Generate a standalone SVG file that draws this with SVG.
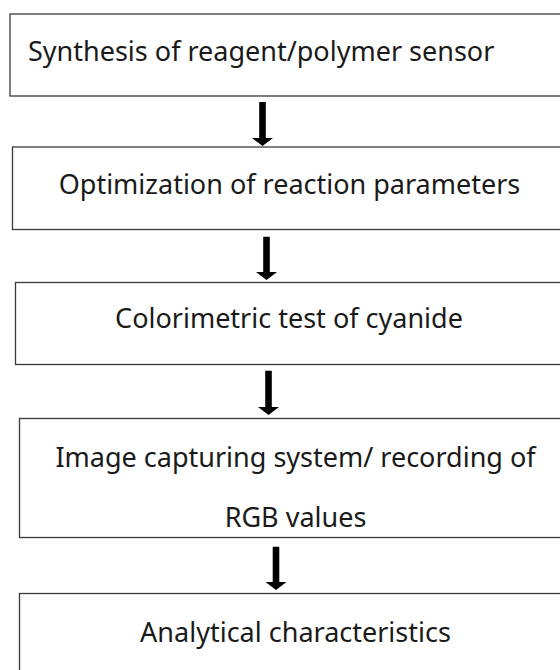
<svg xmlns="http://www.w3.org/2000/svg" width="560" height="670" viewBox="0 0 560 670">
<style>
.box{fill:#ffffff;stroke:#3a3a3a;stroke-width:1.3}
.lbl{font-family:"Noto Sans","Open Sans","DejaVu Sans",sans-serif;font-size:27px;fill:#1a1a1a}
.c{text-anchor:middle}
.arr{fill:#000000;stroke:none}
</style>
<rect x="0" y="0" width="560" height="670" fill="#ffffff"/>
<g id="node1">
<rect class="box" x="10" y="14" width="570" height="82"/>
<text class="lbl" x="28" y="61">Synthesis of reagent/polymer sensor</text>
</g>
<g id="node2">
<rect class="box" x="12.5" y="147" width="570" height="82.5"/>
<text class="lbl c" x="289.5" y="194">Optimization of reaction parameters</text>
</g>
<g id="node3">
<rect class="box" x="15.5" y="282.5" width="570" height="82"/>
<text class="lbl c" x="289" y="328">Colorimetric test of cyanide</text>
</g>
<g id="node4">
<rect class="box" x="19.5" y="418.5" width="570" height="119"/>
<text class="lbl c" x="295.5" y="467">Image capturing system/ recording of</text>
<text class="lbl c" x="295.5" y="527">RGB values</text>
</g>
<g id="node5">
<rect class="box" x="19.5" y="593.5" width="570" height="100"/>
<text class="lbl c" x="295.5" y="642">Analytical characteristics</text>
</g>
<g id="connectors">
<path class="arr" d="M259.2,102 h6.6 v36 h7.2 l-10.5,8 l-10.5,-8 h7.2 z"/>
<path class="arr" d="M263.2,236.7 h6.6 v35.3 h7.2 l-10.5,8 l-10.5,-8 h7.2 z"/>
<path class="arr" d="M265.2,370.7 h6.6 v36.3 h7.2 l-10.5,8 l-10.5,-8 h7.2 z"/>
<path class="arr" d="M272.7,546.7 h6.6 v35.3 h7.2 l-10.5,8 l-10.5,-8 h7.2 z"/>
</g>
</svg>
